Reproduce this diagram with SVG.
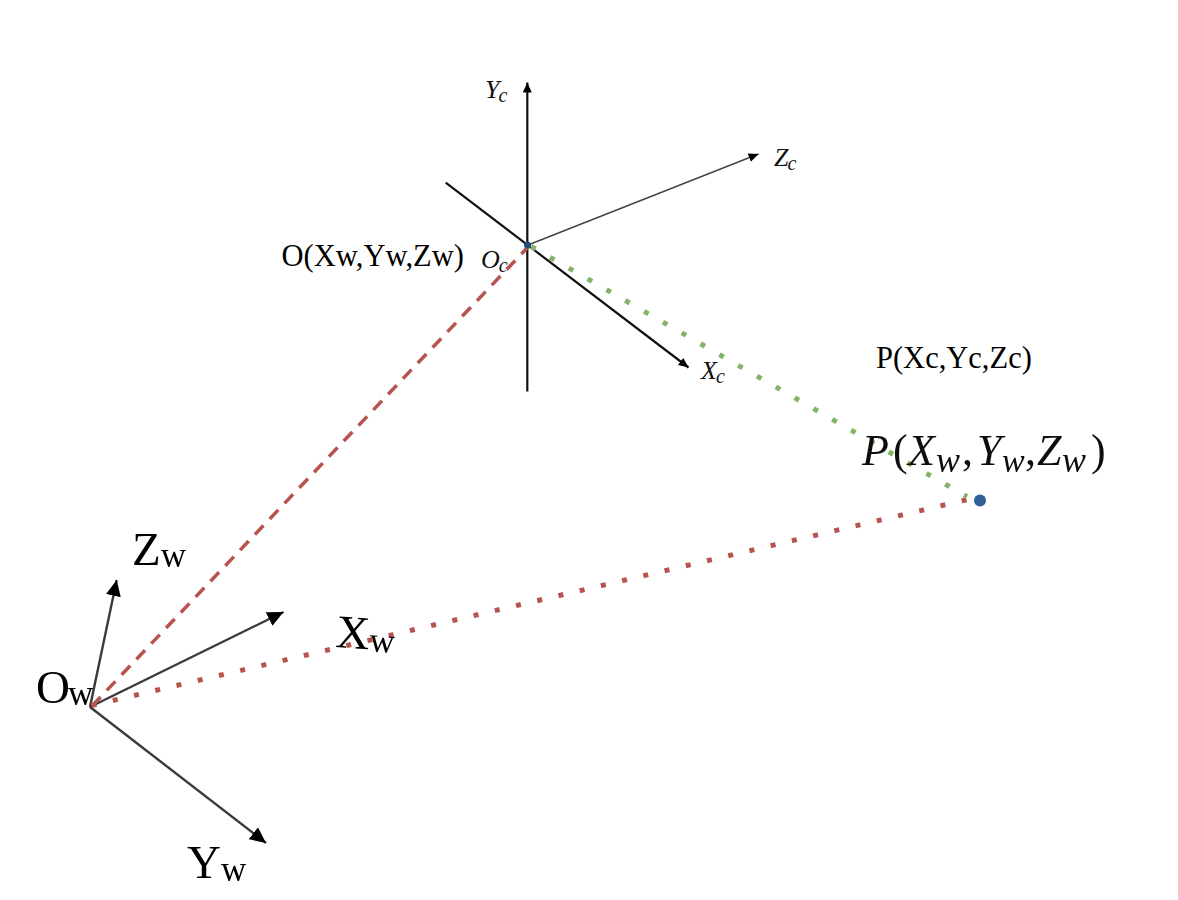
<svg xmlns="http://www.w3.org/2000/svg" width="1178" height="900" viewBox="0 0 1178 900">
<style>
.t{font-family:"Liberation Serif",serif;fill:#000}
.big{font-size:47px}.bs{font-size:35px}
.m{font-family:"Liberation Serif",serif;font-style:italic;fill:#111}
.n{font-style:normal}
.ax{fill:none;stroke:#111;stroke-width:2.2}
.axw{fill:none;stroke:#3a3a3a;stroke-width:2.4}
</style>
<defs>
<filter id="soft" x="-5%" y="-5%" width="110%" height="110%"><feGaussianBlur stdDeviation="0.6"/></filter>
<marker id="a" markerUnits="userSpaceOnUse" markerWidth="11" markerHeight="10" refX="10" refY="4.500" orient="auto"><path d="M0 0L10 4.500L0 9Z" fill="#000"/></marker>
<marker id="b" markerUnits="userSpaceOnUse" markerWidth="17" markerHeight="15" refX="16" refY="7.500" orient="auto"><path d="M0 0L16 7.500L0 15Z" fill="#000"/></marker>
</defs>
<rect width="1178" height="900" fill="#fff"/>
<g id="connectors">
<line class="ax" x1="527.300" y1="391.500" x2="527.300" y2="82.500" marker-end="url(#a)"/>
<line class="ax" x1="445.700" y1="182.700" x2="688.500" y2="367.500" marker-end="url(#a)"/>
<line class="ax" style="stroke:#444;stroke-width:1.500" x1="528" y1="245" x2="758.500" y2="154" marker-end="url(#a)"/>
<g filter="url(#soft)">
<line class="axw" x1="90" y1="707" x2="116.700" y2="580" marker-end="url(#b)"/>
<line class="axw" x1="90" y1="707" x2="283.500" y2="612" marker-end="url(#b)"/>
<line class="axw" x1="90" y1="707" x2="266" y2="843" marker-end="url(#b)"/>
</g>
<line x1="92" y1="706" x2="529" y2="246" fill="none" stroke="#b85450" stroke-width="3.500" stroke-dasharray="12.500 9"/>
<line x1="91.600" y1="705.500" x2="979" y2="496.800" fill="none" stroke="#b85450" stroke-width="5" stroke-dasharray="5 16.800"/>
<line x1="531.200" y1="246.500" x2="967" y2="496.700" fill="none" stroke="#82b366" stroke-width="5" stroke-dasharray="5 16.700"/>
</g>
<g id="origin-c"><circle cx="527.500" cy="245" r="3.500" fill="#1f4e79"/></g>
<g id="point-p"><circle cx="980" cy="500.500" r="6" fill="#2f5f96"/></g>
<g id="labels-camera">
<text class="m" x="485" y="98" font-size="26">Y<tspan font-size="20" dy="4" dx="-1">c</tspan></text>
<text class="m" x="774" y="166" font-size="26">Z<tspan font-size="20" dy="4" dx="-1">c</tspan></text>
<text class="m" x="701" y="379" font-size="26">X<tspan font-size="20" dy="4" dx="-1">c</tspan></text>
<text class="m" x="481" y="268" font-size="26">O<tspan font-size="20" dy="4" dx="-1">c</tspan></text>
<text class="t" x="281.500" y="266" font-size="30.500">O(Xw,Yw,Zw)</text>
<text class="t" x="876" y="368" font-size="30.500">P(Xc,Yc,Zc)</text>
</g>
<g id="labels-world" filter="url(#soft)">
<text class="t big" x="132" y="565">Z<tspan class="bs" dy="2">w</tspan></text>
<text class="t big" x="335" y="647" transform="rotate(4 335 647)">X<tspan class="bs" dy="2">w</tspan></text>
<text class="t big" x="187" y="878">Y<tspan class="bs" dy="3">w</tspan></text>
<text class="t big" x="36" y="703">O<tspan class="bs" dy="2" dx="-2">w</tspan></text>
<text class="m" font-size="44"><tspan x="862" y="465">P</tspan><tspan class="n" x="893" y="465">(</tspan><tspan x="908" y="465">X</tspan><tspan x="936" y="472" font-size="36">w</tspan><tspan class="n" x="962" y="465">,</tspan><tspan x="977" y="465">Y</tspan><tspan x="1002" y="472" font-size="34">w</tspan><tspan class="n" x="1025" y="465">,</tspan><tspan x="1037" y="465">Z</tspan><tspan x="1062" y="472" font-size="36">w</tspan><tspan class="n" x="1091" y="465">)</tspan></text>
</g>
</svg>
